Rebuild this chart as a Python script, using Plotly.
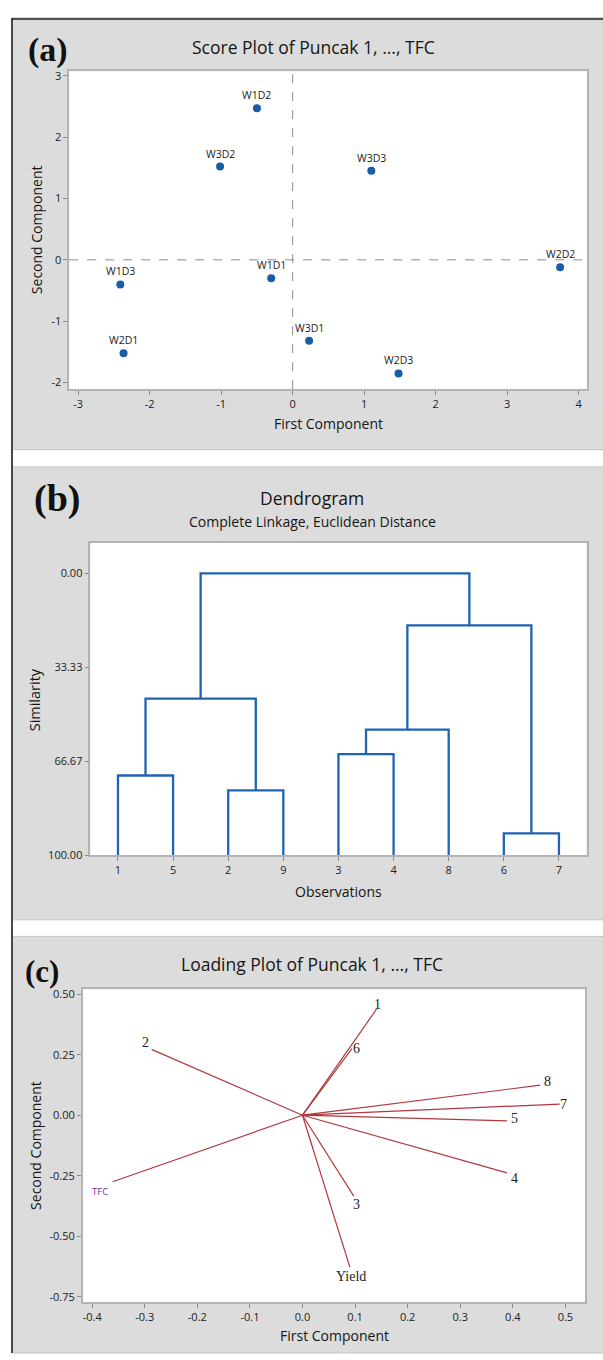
import plotly.graph_objects as go

# ---------------- (a) Score plot ----------------
score_labels = ["W1D1", "W1D2", "W1D3", "W2D1", "W2D2", "W2D3", "W3D1", "W3D2", "W3D3"]
score_pc1 = [-0.30, -0.50, -2.41, -2.365, 3.74, 1.48, 0.23, -1.015, 1.10]
score_pc2 = [-0.30, 2.47, -0.40, -1.52, -0.12, -1.85, -1.32, 1.52, 1.45]
score_xticks = [-3, -2, -1, 0, 1, 2, 3, 4]
score_xtext = ["-3", "-2", "-1", "0", "1", "2", "3", "4"]
score_yticks = [-2, -1, 0, 1, 2, 3]
score_ytext = ["-2", "-1", "0", "1", "2", "3"]

# ---------------- (b) Dendrogram ----------------
leaf_order = ["1", "5", "2", "9", "3", "4", "8", "6", "7"]
merge_left = ["1", "2", "C1", "3", "C4", "6", "C5", "C3"]
merge_right = ["5", "9", "C2", "4", "8", "7", "C6", "C7"]
merge_similarity = [71.68, 76.95, 44.45, 64.10, 55.43, 92.17, 18.49, 0.00]
sim_ticks = [0, 33.33, 66.67, 100]
sim_text = ["0.00", "33.33", "66.67", "100.00"]

# ---------------- (c) Loading plot ----------------
load_vars = ["1", "2", "3", "4", "5", "6", "7", "8", "Yield", "TFC"]
load_pc1 = [0.141, -0.287, 0.0975, 0.389, 0.389, 0.094, 0.489, 0.452, 0.090, -0.361]
load_pc2 = [0.4385, 0.272, -0.334, -0.238, -0.023, 0.275, 0.046, 0.124, -0.627, -0.275]
load_xticks = [-0.4, -0.3, -0.2, -0.1, 0.0, 0.1, 0.2, 0.3, 0.4, 0.5]
load_xtext = ["-0.4", "-0.3", "-0.2", "-0.1", "0.0", "0.1", "0.2", "0.3", "0.4", "0.5"]
load_yticks = [-0.75, -0.50, -0.25, 0.0, 0.25, 0.50]
load_ytext = ["-0.75", "-0.50", "-0.25", "0.00", "0.25", "0.50"]

# label offsets (pixels) for loading labels -- styling only
load_dx = [1, -6, 3, 7, 7, 5, 4, 7, 1, -13]
load_dy = [5, 7, -8, -6, 2, 0, 0, 4, -9, -10]

W, H = 603, 1360
SANS = "Open Sans"
SERIF = "Liberation Serif"
BLUE = "#1a5ca8"
RED = "#b0383d"
GRAY_BG = "#dcdcdc"


def px(x):
    return x / W


def py(y):
    return 1 - y / H


fig = go.Figure()

# (a) scatter
fig.add_trace(go.Scatter(
    x=score_pc1, y=score_pc2, mode="markers",
    marker=dict(color=BLUE, size=8),
    xaxis="x", yaxis="y", showlegend=False, hoverinfo="text", text=score_labels))

# (b) dendrogram lines
pos = {}
hgt = {}
for i, lab in enumerate(leaf_order):
    pos[lab] = i + 1
    hgt[lab] = 100.0
dx_, dy_ = [], []
for k, (l, r, s) in enumerate(zip(merge_left, merge_right, merge_similarity)):
    name = "C%d" % (k + 1)
    dx_ += [pos[l], pos[l], pos[r], pos[r], None]
    dy_ += [hgt[l], s, s, hgt[r], None]
    pos[name] = (pos[l] + pos[r]) / 2
    hgt[name] = s
fig.add_trace(go.Scatter(
    x=dx_, y=dy_, mode="lines", line=dict(color="#1f63b3", width=2.3),
    xaxis="x2", yaxis="y2", showlegend=False, hoverinfo="skip"))

# (c) loading lines
lx, ly = [], []
for a, b in zip(load_pc1, load_pc2):
    lx += [0, a, None]
    ly += [0, b, None]
fig.add_trace(go.Scatter(
    x=lx, y=ly, mode="lines", line=dict(color=RED, width=1.2),
    xaxis="x3", yaxis="y3", showlegend=False, hoverinfo="skip"))

axis_common = dict(
    showgrid=False, zeroline=False, showline=True, mirror=True,
    linecolor="#b4b4b4", linewidth=1.5, ticks="outside", ticklen=4,
    tickcolor="#8a8a8a", tickfont=dict(family=SANS, size=11, color="#222222"),
    tickmode="array")

dom_a = dict(x0=69.2, x1=587.3, y0=67.7, y1=388.3)
dom_b = dict(x0=90.4, x1=586.5, y0=543.3, y1=858.3)
dom_c = dict(x0=82.7, x1=585.4, y0=993.3, y1=1309)

fig.update_layout(
    width=W, height=H, margin=dict(l=0, r=0, t=0, b=0),
    paper_bgcolor="white", plot_bgcolor="white",
    xaxis=dict(domain=[px(dom_a["x0"]), px(dom_a["x1"])], range=[-3.125, 4.12],
               tickvals=score_xticks, ticktext=score_xtext, anchor="y", **axis_common),
    yaxis=dict(domain=[py(dom_a["y1"]), py(dom_a["y0"])], range=[-2.107, 3.074],
               tickvals=score_yticks, ticktext=score_ytext, anchor="x", **axis_common),
    xaxis2=dict(domain=[px(dom_b["x0"]), px(dom_b["x1"])], range=[0.5, 9.5],
                tickvals=list(range(1, len(leaf_order) + 1)), ticktext=leaf_order,
                anchor="y2", **axis_common),
    yaxis2=dict(domain=[py(dom_b["y1"]), py(dom_b["y0"])], range=[100, -10.77],
                tickvals=sim_ticks, ticktext=sim_text, anchor="x2", **axis_common),
    xaxis3=dict(domain=[px(dom_c["x0"]), px(dom_c["x1"])], range=[-0.418, 0.538],
                tickvals=load_xticks, ticktext=load_xtext, anchor="y3", **axis_common),
    yaxis3=dict(domain=[py(dom_c["y1"]), py(dom_c["y0"])], range=[-0.773, 0.520],
                tickvals=load_yticks, ticktext=load_ytext, anchor="x3", **axis_common),
)

shapes = []
# panel backgrounds
for (y0, y1) in [(16, 449.3), (466.7, 923.3), (940, 1360)]:
    shapes.append(dict(type="rect", xref="paper", yref="paper",
                       x0=px(13), x1=1, y0=py(y1), y1=py(y0),
                       fillcolor=GRAY_BG, line=dict(width=0), layer="below"))
    shapes.append(dict(type="line", xref="paper", yref="paper",
                       x0=px(13), x1=1, y0=py(y0), y1=py(y0),
                       line=dict(color="#c4c4c4", width=1), layer="below"))
    shapes.append(dict(type="line", xref="paper", yref="paper",
                       x0=px(13), x1=1, y0=py(y1), y1=py(y1),
                       line=dict(color="#c4c4c4", width=1), layer="below"))
# white plot areas
for d in (dom_a, dom_b, dom_c):
    shapes.append(dict(type="rect", xref="paper", yref="paper",
                       x0=px(d["x0"]), x1=px(d["x1"]), y0=py(d["y1"]), y1=py(d["y0"]),
                       fillcolor="white", line=dict(width=0), layer="below"))
# outer frame lines
shapes.append(dict(type="line", xref="paper", yref="paper",
                   x0=px(12), x1=1, y0=py(15), y1=py(15),
                   line=dict(color="#505050", width=2.2)))
shapes.append(dict(type="line", xref="paper", yref="paper",
                   x0=px(12), x1=px(12), y0=0, y1=py(14),
                   line=dict(color="#1a1a1a", width=1.6)))
# dashed reference lines in score plot
shapes.append(dict(type="line", xref="x", yref="y domain", x0=0, x1=0, y0=0, y1=1,
                   line=dict(color="#8c8c8c", width=1, dash="dash"), layer="below"))
shapes.append(dict(type="line", xref="x domain", yref="y", x0=0, x1=1, y0=0, y1=0,
                   line=dict(color="#8c8c8c", width=1, dash="dash"), layer="below"))
fig.update_layout(shapes=shapes)

ann = []


def paper_text(text, x, y, size, family=SANS, color="#151515", angle=0, weight=None):
    f = dict(family=family, size=size, color=color)
    if weight:
        f["weight"] = weight
    ann.append(dict(text=text, x=px(x), y=py(y), xref="paper", yref="paper",
                    xanchor="center", yanchor="middle", showarrow=False,
                    textangle=angle, font=f))


# panel letters
paper_text("(a)", 48, 46, 34, family=SERIF, color="#111111", weight="bold")
paper_text("(b)", 57, 499, 38, family=SERIF, color="#111111", weight="bold")
paper_text("(c)", 42, 975, 31, family=SERIF, color="#111111", weight="bold")
# titles
paper_text("Score Plot of Puncak 1, ..., TFC", 313, 43.3, 17.5)
paper_text("Dendrogram", 312, 497.7, 17.5)
paper_text("Complete Linkage, Euclidean Distance", 312, 521.7, 14)
paper_text("Loading Plot of Puncak 1, ..., TFC", 311.5, 968.3, 17.5)
# axis titles
paper_text("First Component", 328, 423, 14)
paper_text("Second Component", 36.5, 227.5, 14, angle=-90)
paper_text("Observations", 338.5, 895, 14)
paper_text("Similarity", 34, 702, 14.5, angle=-90)
paper_text("First Component", 334.6, 1342.7, 14)
paper_text("Second Component", 35.4, 1150.8, 14, angle=-90)

# score labels
for lab, a, b in zip(score_labels, score_pc1, score_pc2):
    ann.append(dict(text=lab, x=a, y=b, xref="x", yref="y", showarrow=False,
                    xanchor="center", yanchor="middle", yshift=13,
                    font=dict(family=SANS, size=10.5, color="#222222")))

# loading labels
for lab, a, b, ddx, ddy in zip(load_vars, load_pc1, load_pc2, load_dx, load_dy):
    if lab == "TFC":
        f = dict(family=SANS, size=9.5, color="#5b3a8a")
    else:
        f = dict(family=SERIF, size=14, color="#222222")
    ann.append(dict(text=lab, x=a, y=b, xref="x3", yref="y3", showarrow=False,
                    xanchor="center", yanchor="middle", xshift=ddx, yshift=ddy, font=f))

fig.update_layout(annotations=ann)

fig.write_html(
    "out.html",
    config={"displayModeBar": False},
    post_script="document.body.style.margin='0';document.body.style.overflow='hidden';",
)
